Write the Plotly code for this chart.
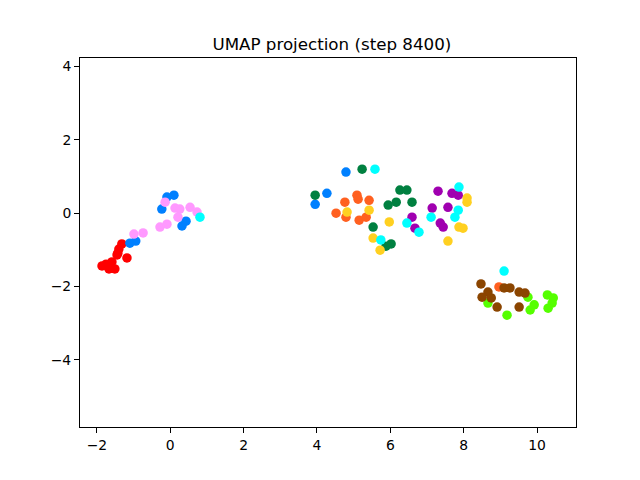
import plotly.graph_objects as go

title = "UMAP projection (step 8400)"

red_x = [-1.86, -1.75, -1.67, -1.51, -1.59, -1.45, -1.40, -1.32, -1.18, -1.43]
red_y = [-1.44, -1.39, -1.52, -1.52, -1.33, -1.14, -0.98, -0.84, -1.22, -1.09]

blue_x = [-1.10, -0.94, -0.23, -0.09, 0.10, 0.32, 0.43, 3.95, 4.27, 4.79]
blue_y = [-0.82, -0.76, 0.11, 0.44, 0.49, -0.35, -0.22, 0.24, 0.54, 1.12]

pink_x = [-0.99, -0.74, -0.28, -0.09, -0.14, 0.13, 0.26, 0.21, 0.54, 0.73]
pink_y = [-0.57, -0.54, -0.38, -0.30, 0.30, 0.14, 0.11, -0.11, 0.16, 0.03]

green_x = [5.23, 3.95, 5.53, 5.88, 6.02, 5.94, 6.16, 6.26, 6.45, 6.59]
green_y = [1.20, 0.49, -0.38, -0.90, -0.84, 0.22, 0.30, 0.63, 0.63, 0.30]

orange_x = [5.09, 5.12, 4.76, 5.42, 4.52, 4.79, 5.15, 5.34, 8.96]
orange_y = [0.49, 0.38, 0.30, 0.35, 0.00, -0.11, -0.19, -0.11, -2.01]

yellow_x = [4.82, 5.42, 5.97, 5.53, 5.72, 8.09, 8.09, 7.87, 7.98, 7.57]
yellow_y = [0.03, 0.08, -0.24, -0.68, -1.01, 0.41, 0.30, -0.38, -0.41, -0.76]

purple_x = [7.30, 7.68, 7.85, 7.14, 7.57, 6.59, 6.67, 7.36, 7.44]
purple_y = [0.60, 0.54, 0.49, 0.14, 0.16, -0.11, -0.41, -0.27, -0.38]

cyan_x = [0.81, 5.58, 5.74, 7.87, 7.85, 7.76, 7.11, 6.45, 6.78, 9.10]
cyan_y = [-0.11, 1.20, -0.73, 0.71, 0.08, -0.11, -0.11, -0.27, -0.52, -1.58]

lime_x = [8.66, 9.18, 9.75, 9.92, 9.81, 10.28, 10.44, 10.41, 10.30]
lime_y = [-2.45, -2.78, -2.29, -2.50, -2.64, -2.23, -2.31, -2.45, -2.59]

brown_x = [8.47, 8.66, 8.50, 8.75, 8.91, 9.10, 9.26, 9.51, 9.67, 9.51]
brown_y = [-1.93, -2.15, -2.29, -2.31, -2.56, -2.04, -2.04, -2.15, -2.18, -2.56]

series = [
    (red_x, red_y, "#ff0000"),
    (blue_x, blue_y, "#0080ff"),
    (pink_x, pink_y, "#ff99ff"),
    (green_x, green_y, "#008040"),
    (orange_x, orange_y, "#ff6020"),
    (yellow_x, yellow_y, "#ffd020"),
    (purple_x, purple_y, "#a000b0"),
    (cyan_x, cyan_y, "#00ffff"),
    (lime_x, lime_y, "#55ff00"),
    (brown_x, brown_y, "#8b4500"),
]

fig = go.Figure()
for xs, ys, c in series:
    fig.add_trace(go.Scatter(x=xs, y=ys, mode="markers",
                             marker=dict(color=c, size=9.5, line=dict(width=0))))

axis_common = dict(showgrid=False, zeroline=False, showline=True, linecolor="black",
                   linewidth=1, mirror=True, ticks="outside", ticklen=5, tickwidth=1,
                   tickcolor="black", tickfont=dict(size=13.9, color="black"))

W, H = 632, 472
fig.update_layout(
    width=W, height=H,
    margin=dict(l=72, r=64, t=50, b=53, pad=0),
    paper_bgcolor="white", plot_bgcolor="white",
    showlegend=False,
    font=dict(family="DejaVu Sans", color="black"),
    title=dict(text=title, x=0.5125, xanchor="center", y=1 - 36/H, yanchor="middle",
               font=dict(size=16.7, color="black")),
    xaxis=dict(range=[-2.46, 11.06], tickvals=[-2, 0, 2, 4, 6, 8, 10], **axis_common),
    yaxis=dict(range=[-5.83, 4.23], tickvals=[-4, -2, 0, 2, 4], **axis_common),
)

fig.write_html("out.html")
